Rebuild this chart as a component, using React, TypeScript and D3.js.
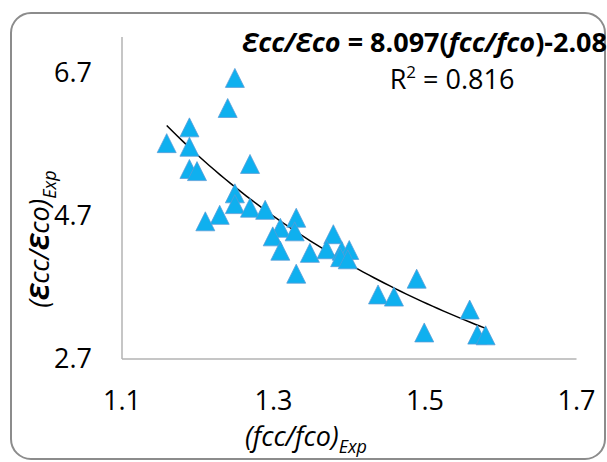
import { useEffect, useRef } from 'react';
import * as d3 from 'd3';

// (fcc/fco)Exp vs (Ɛcc/Ɛco)Exp
const fccRatio = [
  1.249, 1.2395, 1.189, 1.159, 1.189, 1.189, 1.199, 1.269, 1.249, 1.249,
  1.269, 1.289, 1.229, 1.21, 1.33, 1.309, 1.328, 1.299, 1.309, 1.348,
  1.379, 1.37, 1.39, 1.4, 1.388, 1.398, 1.33, 1.489, 1.438, 1.459,
  1.559, 1.499, 1.569, 1.58,
];
const ecoRatio = [
  6.62, 6.2, 5.93, 5.71, 5.66, 5.35, 5.32, 5.42, 5.01, 4.86,
  4.81, 4.78, 4.71, 4.62, 4.67, 4.53, 4.48, 4.41, 4.21, 4.18,
  4.44, 4.23, 4.21, 4.22, 4.12, 4.09, 3.89, 3.82, 3.6, 3.57,
  3.39, 3.07, 3.04, 3.03,
];

const xTicks = [1.1, 1.3, 1.5, 1.7];
const yTicks = [2.7, 4.7, 6.7];

// power trendline shown on the chart: y = 8.097 x^-2.08
const fitCoef = 8.097;
const fitExp = -2.08;

const W = 607;
const H = 462;

export default function App() {
  const svgRef = useRef<SVGSVGElement>(null);

  useEffect(() => {
    const svg = d3.select(svgRef.current);
    svg.selectAll('*').remove();

    const font = "'Open Sans', 'Noto Sans', sans-serif";
    const x = d3.scaleLinear().domain([1.1, 1.7]).range([122, 576.5]);
    const y = d3.scaleLinear().domain([2.7, 7.19]).range([359, 37]);

    svg.append('rect')
      .attr('x', 11)
      .attr('y', 13)
      .attr('width', 594)
      .attr('height', 446)
      .attr('rx', 20)
      .attr('fill', '#fff')
      .attr('stroke', '#8c8c8c')
      .attr('stroke-width', 2);

    // axes (lines only, no ticks)
    svg.append('line')
      .attr('x1', x(1.1)).attr('x2', x(1.1))
      .attr('y1', y.range()[1]).attr('y2', y(2.7))
      .attr('stroke', '#b3b3b3').attr('stroke-width', 1.5);
    svg.append('line')
      .attr('x1', x(1.1)).attr('x2', x(1.7))
      .attr('y1', y(2.7)).attr('y2', y(2.7))
      .attr('stroke', '#b3b3b3').attr('stroke-width', 1.5);

    svg.append('g')
      .selectAll('text')
      .data(xTicks)
      .join('text')
      .attr('x', d => x(d))
      .attr('y', 410)
      .attr('text-anchor', 'middle')
      .attr('font-family', font)
      .attr('font-size', 27)
      .attr('fill', '#000')
      .text(d => d.toFixed(1));

    svg.append('g')
      .selectAll('text')
      .data(yTicks)
      .join('text')
      .attr('x', 92)
      .attr('y', d => y(d))
      .attr('dy', '0.35em')
      .attr('text-anchor', 'end')
      .attr('font-family', font)
      .attr('font-size', 27)
      .attr('fill', '#000')
      .text(d => d.toFixed(1));

    // trendline
    const [x0, x1] = d3.extent(fccRatio) as [number, number];
    const fitX = d3.range(0, 61).map(i => x0 + (x1 - x0) * i / 60);
    const line = d3.line<number>()
      .x(d => x(d))
      .y(d => y(fitCoef * Math.pow(d, fitExp)));
    svg.append('path')
      .attr('d', line(fitX))
      .attr('fill', 'none')
      .attr('stroke', '#000')
      .attr('stroke-width', 1.5);

    // triangle markers
    const half = 9.5;
    svg.append('g')
      .selectAll('path')
      .data(fccRatio.map((v, i) => [v, ecoRatio[i]]))
      .join('path')
      .attr('d', d => {
        const cx = x(d[0]);
        const cy = y(d[1]);
        return `M${cx},${cy - half}L${cx + half},${cy + half}L${cx - half},${cy + half}Z`;
      })
      .attr('fill', '#0fb0ef')
      .attr('stroke', '#5b9bd5')
      .attr('stroke-width', 0.75);

    // equation + R²
    const eq = svg.append('text')
      .attr('x', 607)
      .attr('y', 52)
      .attr('text-anchor', 'end')
      .attr('font-family', font)
      .attr('font-size', 27)
      .attr('font-weight', 'bold')
      .attr('fill', '#000');
    eq.append('tspan').attr('font-style', 'italic').text('Ɛcc/Ɛco');
    eq.append('tspan').text(' = 8.097(');
    eq.append('tspan').attr('font-style', 'italic').text('fcc/fco');
    eq.append('tspan').text(')-2.08');

    const r2 = svg.append('text')
      .attr('x', 452)
      .attr('y', 89)
      .attr('text-anchor', 'middle')
      .attr('font-family', font)
      .attr('font-size', 27)
      .attr('fill', '#000');
    r2.append('tspan').text('R');
    r2.append('tspan').attr('font-size', 17).attr('dy', -11).text('2');
    r2.append('tspan').attr('dy', 11).text(' = 0.816');

    // axis titles
    const xt = svg.append('text')
      .attr('x', 306)
      .attr('y', 446)
      .attr('text-anchor', 'middle')
      .attr('font-family', font)
      .attr('font-size', 27)
      .attr('font-style', 'italic')
      .attr('fill', '#000');
    xt.append('tspan').text('(fcc/fco)');
    xt.append('tspan').attr('font-size', 18).attr('dy', 7).text('Exp');

    const yt = svg.append('text')
      .attr('transform', `translate(49,239) rotate(-90)`)
      .attr('text-anchor', 'middle')
      .attr('font-family', font)
      .attr('font-size', 27)
      .attr('font-style', 'italic')
      .attr('fill', '#000');
    yt.append('tspan').text('(');
    yt.append('tspan').attr('font-weight', 'bold').text('Ɛ');
    yt.append('tspan').text('cc/');
    yt.append('tspan').attr('font-weight', 'bold').text('Ɛ');
    yt.append('tspan').text('co)');
    yt.append('tspan').attr('font-size', 18).attr('dy', 7).text('Exp');
  }, []);

  return (
    <svg
      ref={svgRef}
      width={W}
      height={H}
      style={{ position: 'absolute', left: 0, top: 0, display: 'block' }}
    />
  );
}
